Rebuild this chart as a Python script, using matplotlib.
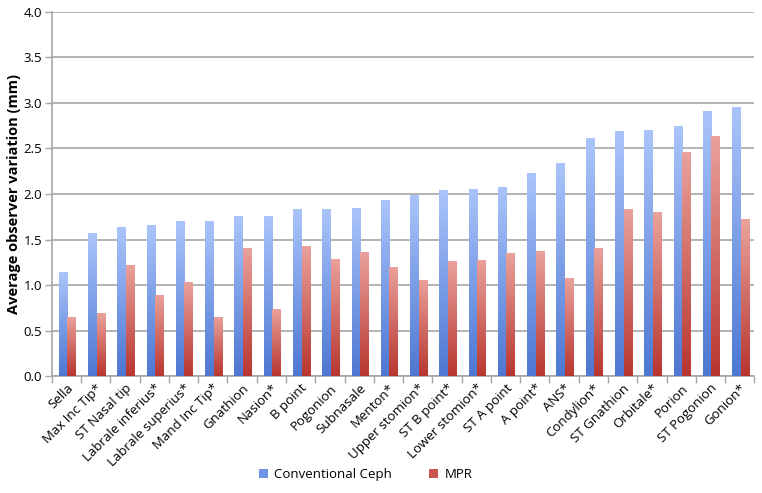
import numpy as np
import matplotlib
matplotlib.use('Agg')
import matplotlib.pyplot as plt
from matplotlib.colors import LinearSegmentedColormap
from matplotlib.patches import Patch

landmarks = ['Sella', 'Max Inc Tip*', 'ST Nasal tip', 'Labrale inferius*', 'Labrale superius*',
             'Mand Inc Tip*', 'Gnathion', 'Nasion*', 'B point', 'Pogonion', 'Subnasale',
             'Menton*', 'Upper stomion*', 'ST B point*', 'Lower stomion*', 'ST A point',
             'A point*', 'ANS*', 'Condylion*', 'ST Gnathion', 'Orbitale*', 'Porion',
             'ST Pogonion', 'Gonion*']
conventional = [1.14, 1.57, 1.64, 1.66, 1.70, 1.70, 1.76, 1.76, 1.83, 1.84, 1.85, 1.93,
                1.99, 2.04, 2.06, 2.08, 2.23, 2.34, 2.61, 2.69, 2.70, 2.75, 2.91, 2.96]
mpr = [0.65, 0.69, 1.22, 0.89, 1.03, 0.65, 1.41, 0.74, 1.43, 1.29, 1.36, 1.20,
       1.06, 1.26, 1.28, 1.35, 1.37, 1.08, 1.41, 1.84, 1.80, 2.46, 2.64, 1.72]

plt.rcParams['font.family'] = ['Open Sans', 'DejaVu Sans']

blue_cmap = LinearSegmentedColormap.from_list('blue', ['#4d77d2', '#abc5fb'])
red_cmap = LinearSegmentedColormap.from_list('red', ['#b8362f', '#eaa29c'])


def gradient_bars(ax, bars, cmap):
    grad = np.linspace(0, 1, 256).reshape(-1, 1)
    for bar in bars:
        x, y = bar.get_x(), bar.get_y()
        w, h = bar.get_width(), bar.get_height()
        bar.set_facecolor('none')
        im = ax.imshow(grad, cmap=cmap, origin='lower', aspect='auto',
                       extent=(x, x + w, y, y + h), zorder=3)
        im.set_clip_path(bar)


fig = plt.figure(figsize=(7.62, 4.93), dpi=100)
ax = fig.add_axes([0.068, 0.237, 0.922, 0.739])

x = np.arange(len(landmarks))
width = 0.29
b1 = ax.bar(x - width / 2 + 0.03, conventional, width, linewidth=0, zorder=3)
b2 = ax.bar(x + width / 2 + 0.03, mpr, width, linewidth=0, zorder=3)
gradient_bars(ax, b1, blue_cmap)
gradient_bars(ax, b2, red_cmap)

ax.set_xlim(-0.5, len(landmarks) - 0.5)
ax.set_ylim(0, 4.0)
ax.set_yticks(np.arange(0, 4.01, 0.5))
ax.set_yticklabels([f'{v:.1f}' for v in np.arange(0, 4.01, 0.5)], fontsize=9.5)
ax.yaxis.grid(True, color='#a6a6a6', linewidth=1.2, zorder=0)
ax.set_axisbelow(True)

ax.set_xticks(x)
ax.set_xticklabels(landmarks, rotation=45, ha='right', rotation_mode='anchor', fontsize=9.5)
ax.set_xticks(np.arange(-0.5, len(landmarks), 1), minor=True)
ax.tick_params(axis='x', which='major', length=0, pad=4)
ax.tick_params(axis='x', which='minor', length=5, color='#a6a6a6', width=1)
ax.tick_params(axis='y', length=5, color='#a6a6a6', width=1, pad=2)

for side in ['top', 'right']:
    ax.spines[side].set_visible(False)
for side in ['left', 'bottom']:
    ax.spines[side].set_color('#a6a6a6')
    ax.spines[side].set_linewidth(1.2)

ax.set_ylabel('Average observer variation (mm)', fontsize=10.5, fontweight='bold', labelpad=2)

handles = [Patch(facecolor='#6f93e3', label='Conventional Ceph'),
           Patch(facecolor='#c9554e', label='MPR')]
fig.legend(handles=handles, loc='lower center', ncol=2, frameon=False, fontsize=9.5,
           bbox_to_anchor=(0.48, 0.0), handlelength=0.7, handleheight=0.7,
           columnspacing=2.8, handletextpad=0.5)

fig.savefig('out.png', dpi=100)
